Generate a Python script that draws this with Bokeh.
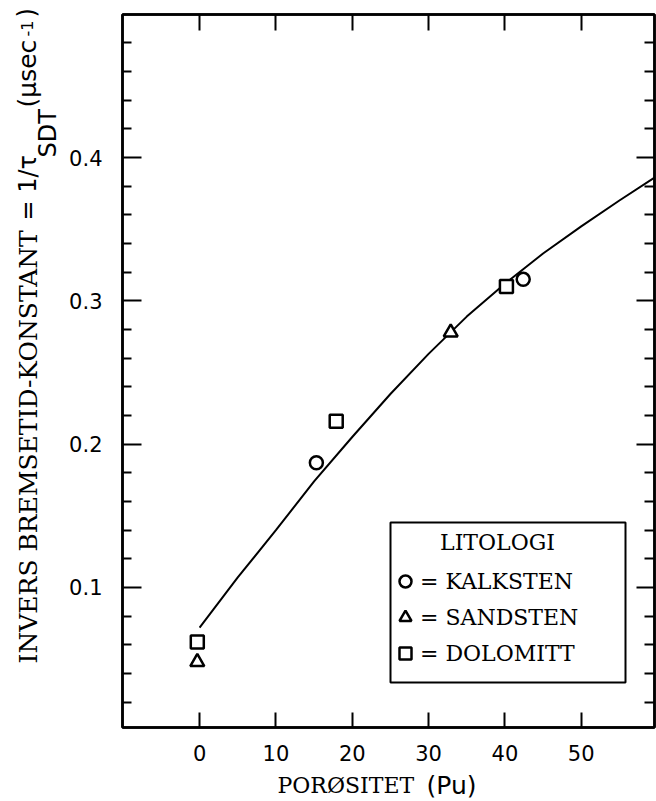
from bokeh.plotting import figure
from bokeh.models import (Range1d, LinearAxis, FixedTicker, Label, Legend,
                          LegendItem, BoxAnnotation, Title)
from bokeh.embed import file_html
from bokeh.resources import INLINE

# ---- data ----
curve_x = [0, 5, 10, 15, 20, 25, 30, 35, 40, 45, 50, 55, 59.6]
curve_y = [0.072, 0.107, 0.140, 0.174, 0.205, 0.235, 0.263, 0.289, 0.312,
           0.333, 0.352, 0.370, 0.386]

kalksten_x = [15.3, 42.4]
kalksten_y = [0.187, 0.315]
sandsten_x = [-0.3, 32.9]
sandsten_y = [0.048, 0.278]
dolomitt_x = [-0.3, 17.9, 40.2]
dolomitt_y = [0.062, 0.216, 0.310]

x_ticks = [0, 10, 20, 30, 40, 50]
y_ticks = [0.1, 0.2, 0.3, 0.4]
y_minor_ticks = [0.02, 0.04, 0.06, 0.08, 0.12, 0.14, 0.16, 0.18, 0.22, 0.24,
                 0.26, 0.28, 0.32, 0.34, 0.36, 0.38, 0.42, 0.44, 0.46, 0.48]

legend_title = "LITOLOGI"
legend_labels = ["= KALKSTEN", "= SANDSTEN", "= DOLOMITT"]

SERIF = "DejaVu Serif"
SANS = "DejaVu Sans"

p = figure(width=656, height=801, x_range=Range1d(-10.1, 59.6),
           y_range=Range1d(0.0023, 0.4998), output_backend="svg",
           toolbar_location=None, min_border_left=122, min_border_right=2,
           min_border_top=14, min_border_bottom=74)
p.grid.visible = False
p.outline_line_color = "black"
p.outline_line_width = 2.5
p.background_fill_color = "white"
p.border_fill_color = "white"

# bottom axis
xa = p.xaxis[0]
xa.ticker = FixedTicker(ticks=x_ticks, minor_ticks=[])
xa.major_tick_in = 15
xa.major_tick_out = 0
xa.minor_tick_in = 0
xa.minor_tick_out = 0
xa.major_tick_line_width = 2
xa.axis_line_width = 2.5
xa.major_label_text_font = SANS
xa.major_label_text_font_size = "21px"
xa.major_label_text_color = "black"
xa.major_label_standoff = 17

# left axis
ya = p.yaxis[0]
ya.ticker = FixedTicker(ticks=y_ticks, minor_ticks=y_minor_ticks)
ya.major_tick_in = 19
ya.major_tick_out = 0
ya.minor_tick_in = 9
ya.minor_tick_out = 0
ya.major_tick_line_width = 2
ya.minor_tick_line_width = 2
ya.axis_line_width = 2.5
ya.major_label_text_font = SANS
ya.major_label_text_font_size = "21px"
ya.major_label_text_color = "black"
ya.major_label_standoff = 20
ya.major_label_overrides = {v: f"{v:.1f}" for v in y_ticks}

# right axes (ticks only, pointing inward)
r1 = LinearAxis(ticker=FixedTicker(ticks=[], minor_ticks=y_minor_ticks),
                minor_tick_in=10, minor_tick_out=0, major_tick_in=0,
                major_tick_out=0, minor_tick_line_width=2,
                axis_line_color="black", axis_line_width=2.5,
                major_label_standoff=0)
r2 = LinearAxis(ticker=FixedTicker(ticks=[], minor_ticks=y_ticks),
                minor_tick_in=18, minor_tick_out=0, major_tick_in=0,
                major_tick_out=0, minor_tick_line_width=2,
                axis_line_color=None, major_label_standoff=0)
p.add_layout(r1, "right")
p.add_layout(r2, "right")

# top axis (ticks only)
t1 = LinearAxis(ticker=FixedTicker(ticks=[], minor_ticks=x_ticks),
                minor_tick_in=16, minor_tick_out=0, major_tick_in=0,
                major_tick_out=0, minor_tick_line_width=2,
                axis_line_color="black", axis_line_width=2.5,
                major_label_standoff=0)
p.add_layout(t1, "above")

# curve and points
p.line(curve_x, curve_y, line_color="black", line_width=2)
rk = p.scatter(kalksten_x, kalksten_y, marker="circle", size=13,
               fill_color="white", line_color="black", line_width=2.5)
rs = p.scatter(sandsten_x, sandsten_y, marker="triangle", size=14,
               fill_color="white", line_color="black", line_width=2.5)
rd = p.scatter(dolomitt_x, dolomitt_y, marker="square", size=13,
               fill_color="white", line_color="black", line_width=2.5)

# legend box
box = BoxAnnotation(left=268, right=503, bottom=45, top=205,
                    left_units="screen", right_units="screen",
                    top_units="screen", bottom_units="screen",
                    fill_alpha=0, line_color="black", line_alpha=1.0,
                    line_width=2)
p.add_layout(box)

legend = Legend(items=[LegendItem(label=legend_labels[0], renderers=[rk]),
                       LegendItem(label=legend_labels[1], renderers=[rs]),
                       LegendItem(label=legend_labels[2], renderers=[rd])],
                location=(268, 59), glyph_width=30, glyph_height=30,
                label_standoff=0, spacing=6, padding=0, margin=0,
                border_line_alpha=0, background_fill_alpha=0,
                label_text_font=SERIF, label_text_font_size="22px",
                label_text_color="black")
p.add_layout(legend)

p.add_layout(Label(x=375, y=185, x_units="screen", y_units="screen",
                   text=legend_title, text_font=SERIF, text_font_size="22px",
                   text_align="center", text_baseline="middle",
                   text_color="black"))


def side_title(text, side, offset, font, size, standoff):
    p.add_layout(Title(text=text, align="left", offset=offset,
                       vertical_align="middle", text_font=font,
                       text_font_size=size, text_font_style="normal",
                       text_color="black", standoff=standoff), side)


# x axis title: spacer, then two zero-width rows at the same height
side_title(" ", "below", 0, SANS, "10px", 9)
side_title("PORØSITET", "below", 155, SERIF, "22px", -27)
side_title("(Pu)", "below", 304, SANS, "25px", -31)

# y axis title pieces (left side, rotated)
side_title("SDT", "left", 570, SANS, "24px", 8)
side_title("INVERS BREMSETID-KONSTANT", "left", 64, SERIF, "25px", -31)
side_title("= 1/τ", "left", 507, SANS, "24px", -29)
side_title("(μsec", "left", 620, SANS, "25px", -31)
side_title(")", "left", 710, SANS, "24px", -29)
side_title("-1", "left", 691, SANS, "16px", -24)

open("out.html", "w").write(file_html(p, INLINE))
